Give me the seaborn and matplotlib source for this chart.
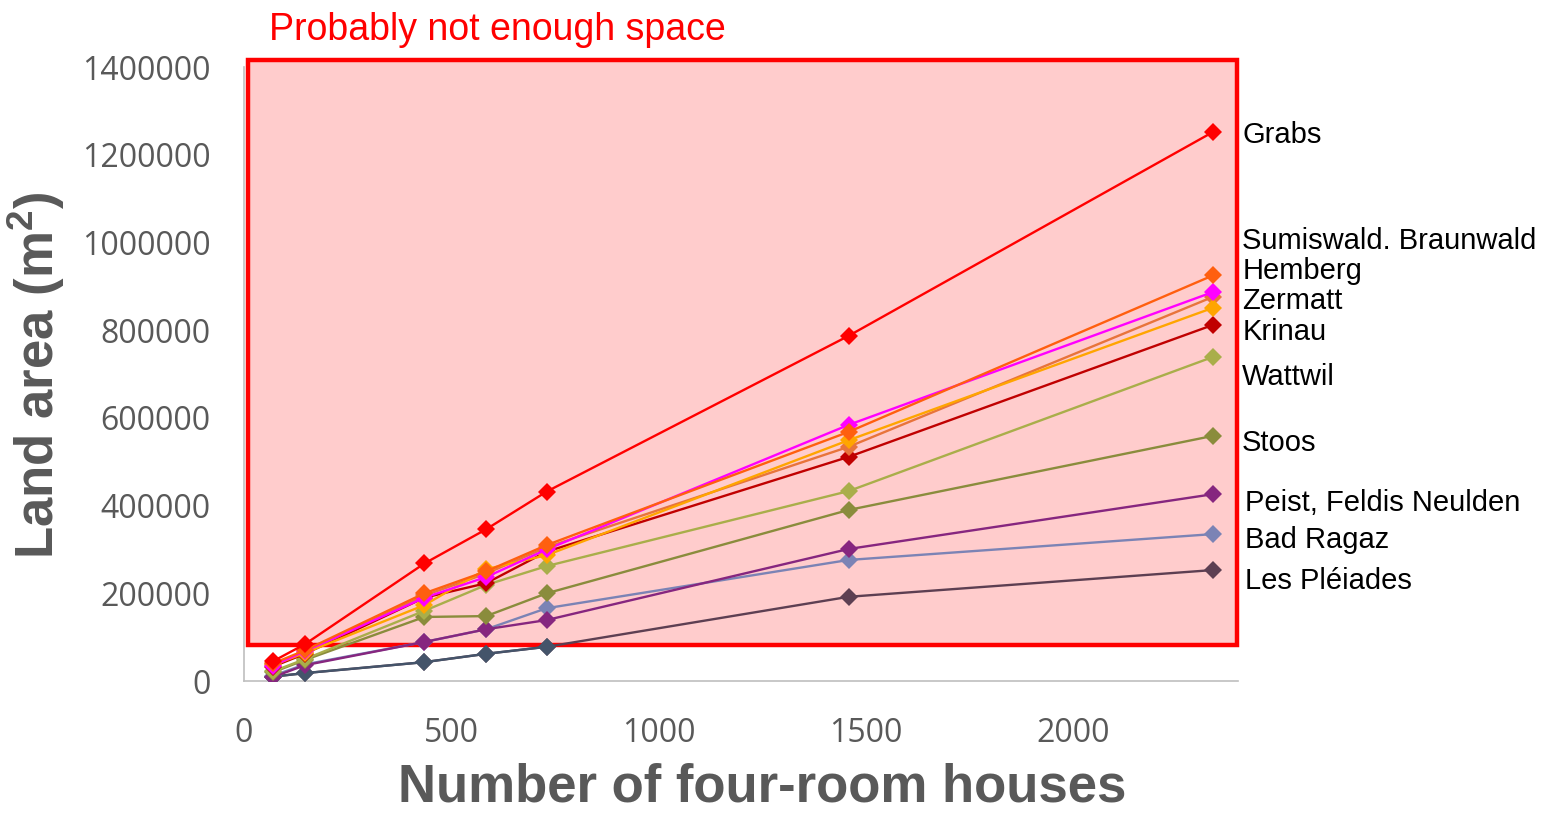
import numpy as np
import pandas as pd
import matplotlib
matplotlib.use("Agg")
import matplotlib.pyplot as plt
from matplotlib.patches import Rectangle
from matplotlib.ticker import StrMethodFormatter
import seaborn as sns

# ── Données ───────────────────────────────────────────────────────────────────
houses = [70, 147, 435, 584, 730, 1458, 2337]

grabs       = [45000, 84000, 268000, 346000, 432000, 787000, 1252000]
sumiswald   = [40000, 70000, 200000, 250000, 310000, 568000, 925000]
braunwald   = [35000, 68000, 190000, 237000, 300000, 584000, 887000]
hemberg     = [38000, 66000, 195000, 245000, 305000, 534000, 876000]
zermatt     = [36000, 64000, 173000, 255000, 287000, 549000, 851000]
krinau      = [33000, 62000, 190000, 223000, 295000, 511000, 812000]
wattwil     = [22000, 50000, 160000, 219000, 262000, 433000, 739000]
stoos       = [20000, 48000, 146000, 148000, 200000, 390000, 559000]
peist       = [9000, 36000, 89000, 118000, 139000, 301000, 426000]
bad_ragaz   = [12000, 38000, 89000, 118000, 166000, 276000, 335000]
pleiades    = [10000, 18000, 43000, 62000, 78000, 192000, 253000]
unlabelled  = [10000, 18000, 43000, 62000, 78000]   # série sans étiquette (s'arrête à 730)

series = {
    "Les Pléiades": pleiades,
    "Autre": unlabelled,
    "Bad Ragaz": bad_ragaz,
    "Peist": peist,
    "Stoos": stoos,
    "Wattwil": wattwil,
    "Krinau": krinau,
    "Hemberg": hemberg,
    "Zermatt": zermatt,
    "Braunwald": braunwald,
    "Sumiswald": sumiswald,
    "Grabs": grabs,
}
colors = {
    "Les Pléiades": "#5D3F52",
    "Autre": "#44546A",
    "Bad Ragaz": "#7B83B5",
    "Peist": "#86267F",
    "Stoos": "#8A8C3C",
    "Wattwil": "#A9AE4A",
    "Krinau": "#C00000",
    "Hemberg": "#E8743B",
    "Zermatt": "#FFA500",
    "Braunwald": "#FF00FF",
    "Sumiswald": "#FF5F0F",
    "Grabs": "#FF0000",
}

# étiquettes à droite (texte, hauteur en m²)
end_labels   = ["Grabs", "Sumiswald. Braunwald", "Hemberg", "Zermatt", "Krinau",
                "Wattwil", "Stoos", "Peist, Feldis Neulden", "Bad Ragaz", "Les Pléiades"]
end_labels_y = [1245000, 1003000, 935000, 866000, 796000,
                693000, 543000, 406000, 321000, 228000]

rows = []
for name, vals in series.items():
    for xv, yv in zip(houses, vals):
        rows.append({"houses": xv, "area": yv, "series": name})
df = pd.DataFrame(rows)

# ── Figure ────────────────────────────────────────────────────────────────────
sns.set_style("white")
plt.rcParams["mathtext.fontset"] = "custom"
plt.rcParams["mathtext.bf"] = "Liberation Sans:bold"
plt.rcParams["mathtext.rm"] = "Liberation Sans"

fig = plt.figure(figsize=(15.42, 8.14), dpi=100)
ax = fig.add_axes([244 / 1542, 1 - 681 / 814, 994 / 1542, 614 / 814])

# zone "pas assez d'espace"
ax.add_patch(Rectangle((10, 82000), 2385, 1334000, facecolor="#FFCCCC",
                       edgecolor="#FF0000", linewidth=3.2, clip_on=False, zorder=0))

sns.lineplot(data=df, x="houses", y="area", hue="series", hue_order=list(series),
             palette=colors, marker="D", markersize=9.5, markeredgewidth=0,
             linewidth=1.7, sort=False, legend=False, ax=ax, zorder=3)

ax.set_xlim(0, 2397)
ax.set_ylim(0, 1400000)
ax.set_xticks([0, 500, 1000, 1500, 2000])
ax.set_yticks(np.arange(0, 1400001, 200000))
ax.yaxis.set_major_formatter(StrMethodFormatter("{x:.0f}"))
ax.tick_params(axis="both", length=0, labelsize=23, labelcolor="#595959")
ax.tick_params(axis="y", pad=24)
ax.tick_params(axis="x", pad=26)
for lab in ax.get_xticklabels() + ax.get_yticklabels():
    lab.set_family("Open Sans")

for side in ["top", "right"]:
    ax.spines[side].set_visible(False)
for side in ["left", "bottom"]:
    ax.spines[side].set_color("#BFBFBF")
    ax.spines[side].set_linewidth(1.2)

ax.set_xlabel("Number of four-room houses", fontsize=38, fontweight="bold",
              color="#595959", family="Liberation Sans")
ax.set_ylabel(r"Land area (m$\mathbf{^2}$)", fontsize=38, fontweight="bold",
              color="#595959", family="Liberation Sans")
ax.xaxis.set_label_coords(0.521, -0.132)
ax.yaxis.set_label_coords(-0.178, 0.498)

for txt, yv in zip(end_labels, end_labels_y):
    xv = 2414 if yv < 450000 else 2407
    ax.text(xv, yv, txt, fontsize=21, family="Liberation Sans", color="black",
            va="center", ha="left", clip_on=False)

ax.text(60, 1485000, "Probably not enough space", fontsize=27, color="#FF0000",
        family="Liberation Sans", va="center", ha="left", clip_on=False)

fig.savefig("out.png", dpi=100)
plt.close(fig)
